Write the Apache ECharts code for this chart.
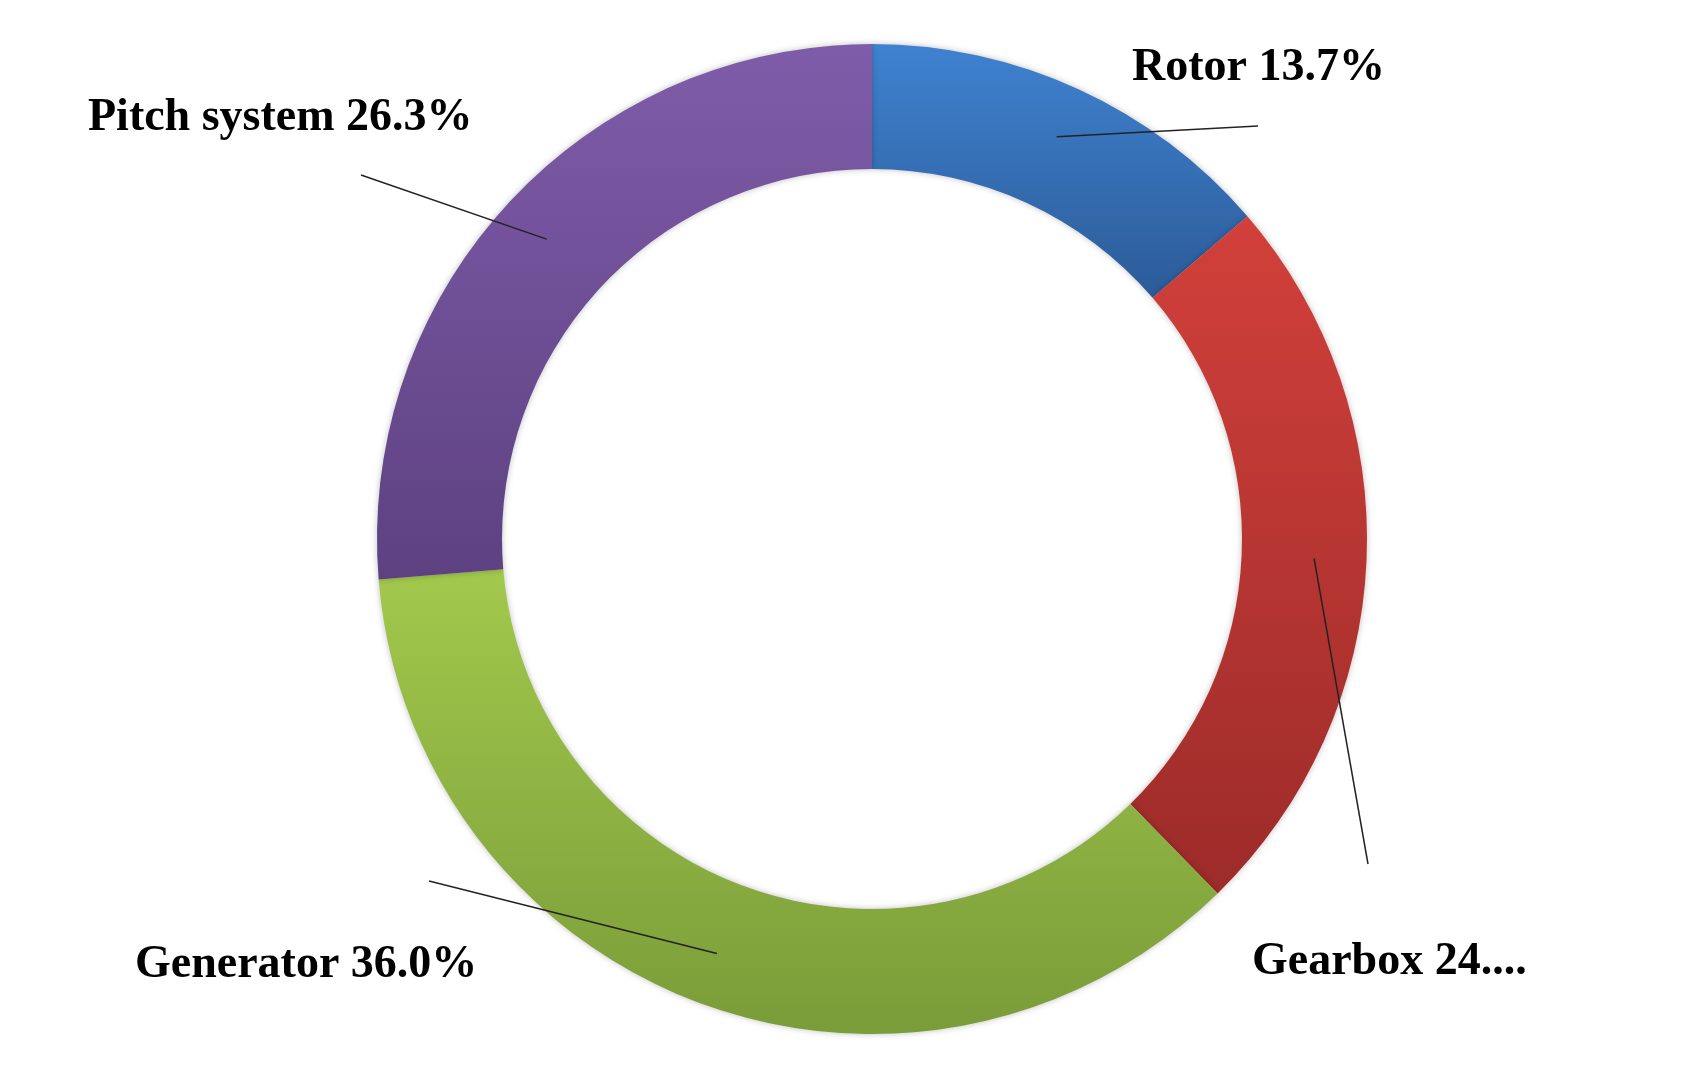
<!DOCTYPE html>
<html lang="en">
<head>
  <meta charset="UTF-8">
  <title>Failure share</title>
  <script src="https://cdn.jsdelivr.net/npm/echarts@6/dist/echarts.min.js"></script>
</head>
<body style="margin:0">
<div id="chart" style="width:1707px;height:1070px;"></div>
<script>
  const names = ['Rotor', 'Gearbox', 'Generator', 'Pitch system']
  const shares = [13.7, 24.0, 36.0, 26.3]
  const topColors = ['#3f82d0', '#d2403b', '#a2c94c', '#7f5ca9']
  const bottomColors = ['#2c5b98', '#9c2b29', '#7a9c39', '#5d4181']
  // label anchor spots (left edge, middle)
  const labelPos = [[1132, 68], [1252, 962], [135, 965], [88, 118]]

  const chart = echarts.init(document.getElementById('chart'))
  const cx = 872, cy = 539, rIn = 370, rOut = 495

  // short leader lines from the ring outwards
  const lines = []
  let acc = 0
  const tips = [[1258, 126], [1368, 864], [429, 881], [361, 175]]
  shares.forEach((v, i) => {
    const mid = (acc + v / 2) / 100 * 2 * Math.PI
    acc += v
    const r = (rIn + rOut) / 2 + 10
    const x0 = cx + r * Math.sin(mid), y0 = cy - r * Math.cos(mid)
    lines.push({
      type: 'line',
      shape: {x1: x0, y1: y0, x2: tips[i][0], y2: tips[i][1]},
      style: {stroke: '#222', lineWidth: 1.5}
    })
  })

  chart.setOption({
    backgroundColor: '#fff',
    graphic: lines.map(l => Object.assign(l, {z: 10})),
    series: [{
      type: 'pie',
      center: [cx, cy],
      radius: [rIn, rOut],
      startAngle: 90,
      clockwise: true,
      silent: true,
      label: {
        show: true,
        position: 'outside',
        formatter: p => p.name + ' ' + p.value.toFixed(1) + '%',
        fontFamily: 'Liberation Serif',
        fontWeight: 'bold',
        fontSize: 46,
        color: '#000'
      },
      labelLine: {show: false},
      labelLayout: p => ({
        x: labelPos[p.dataIndex][0],
        y: labelPos[p.dataIndex][1],
        align: 'left',
        verticalAlign: 'middle'
      }),
      itemStyle: {shadowBlur: 6, shadowColor: 'rgba(0,0,0,0.25)'},
      data: names.map((n, i) => ({
        name: n,
        value: shares[i],
        itemStyle: {
          color: new echarts.graphic.LinearGradient(0, 0, 0, 1, [
            {offset: 0, color: topColors[i]},
            {offset: 1, color: bottomColors[i]}
          ])
        }
      }))
    }]
  })
</script>
</body>
</html>
